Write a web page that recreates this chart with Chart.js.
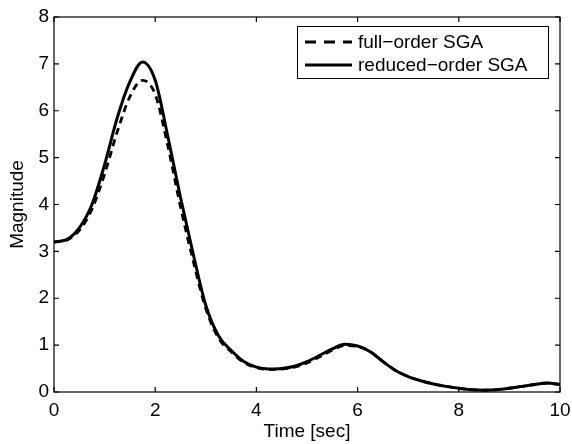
<!DOCTYPE html>
<html><head><meta charset="utf-8">
<script src="https://cdn.jsdelivr.net/npm/chart.js@4.4.1/dist/chart.umd.min.js"></script>
<style>html,body{margin:0;padding:0;background:#fff}#wrap{width:572px;height:444px}</style>
</head><body><div id="wrap"><canvas id="c" width="572" height="444"></canvas></div>
<script>
// ---- data ----
const timeSec = [0,0.25,0.5,0.75,1.0,1.25,1.5,1.75,2.0,2.25,2.5,2.75,3.0,3.25,3.5,3.75,4.0,4.25,4.5,4.75,5.0,5.25,5.5,5.75,6.0,6.25,6.5,6.75,7.0,7.25,7.5,7.75,8.0,8.25,8.5,8.75,9.0,9.25,9.5,9.75,10.0];
const fullOrderSGA    = [3.20,3.24,3.45,3.90,4.65,5.55,6.30,6.65,6.35,5.25,3.95,2.80,1.78,1.15,0.86,0.63,0.52,0.48,0.49,0.53,0.62,0.75,0.89,0.99,0.97,0.86,0.65,0.46,0.33,0.24,0.17,0.12,0.08,0.05,0.04,0.05,0.08,0.12,0.16,0.19,0.16];
const reducedOrderSGA = [3.20,3.25,3.50,4.00,4.85,5.85,6.62,7.04,6.65,5.45,4.15,2.95,1.85,1.20,0.89,0.65,0.53,0.49,0.50,0.55,0.65,0.78,0.92,1.02,0.98,0.86,0.65,0.46,0.33,0.24,0.17,0.12,0.08,0.05,0.04,0.05,0.08,0.12,0.16,0.19,0.16];
const xTicks = [0,2,4,6,8,10];
const yTicks = [0,1,2,3,4,5,6,7,8];
const seriesLabels = ['full\u2212order SGA','reduced\u2212order SGA'];
const xTitle = 'Time [sec]';
const yTitle = 'Magnitude';

const FONT = 'Liberation Sans, Arial, Helvetica, sans-serif';
const FS = 19;

const toPoints = arr => arr.map((v,i)=>({x:timeSec[i], y:v}));

const framePlugin = {
  id:'frame',
  afterDraw(chart){
    const {ctx, chartArea:{left,right,top,bottom}, scales:{x,y}} = chart;
    ctx.save();
    ctx.strokeStyle='#000';
    ctx.lineWidth=1.2;
    ctx.strokeRect(left, top, right-left, bottom-top);
    const tl=5;
    ctx.beginPath();
    xTicks.forEach(v=>{
      const p=x.getPixelForValue(v);
      ctx.moveTo(p,bottom); ctx.lineTo(p,bottom-tl);
      ctx.moveTo(p,top); ctx.lineTo(p,top+tl);
    });
    yTicks.forEach(v=>{
      const p=y.getPixelForValue(v);
      ctx.moveTo(left,p); ctx.lineTo(left+tl,p);
      ctx.moveTo(right,p); ctx.lineTo(right-tl,p);
    });
    ctx.stroke();

    // legend box (inside, top-right)
    const bw=251, bh=52;
    const bx0 = right-12-bw, by0 = top+9;
    ctx.fillStyle='#fff';
    ctx.fillRect(bx0,by0,bw,bh);
    ctx.lineWidth=1;
    ctx.strokeRect(bx0+0.5,by0+0.5,bw,bh);
    ctx.font=FS+'px '+FONT;
    ctx.textBaseline='middle';
    ctx.fillStyle='#000';
    chart.data.datasets.forEach((ds,i)=>{
      const yy = by0 + 16 + i*23;
      ctx.beginPath();
      ctx.lineWidth=3;
      ctx.strokeStyle='#000';
      ctx.setLineDash(i===0?[11,8]:[]);
      ctx.moveTo(bx0+8,yy); ctx.lineTo(bx0+55,yy);
      ctx.stroke();
      ctx.setLineDash([]);
      ctx.fillText(ds.label, bx0+61, yy+1);
    });
    ctx.restore();
  }
};

new Chart(document.getElementById('c'), {
  type:'line',
  data:{
    datasets:[
      {label:seriesLabels[0], data:toPoints(fullOrderSGA), borderColor:'#000', borderWidth:2.8, borderDash:[7,5], pointRadius:0, cubicInterpolationMode:'monotone', fill:false},
      {label:seriesLabels[1], data:toPoints(reducedOrderSGA), borderColor:'#000', borderWidth:3, pointRadius:0, cubicInterpolationMode:'monotone', fill:false}
    ]
  },
  options:{
    responsive:false, animation:false, devicePixelRatio:1,
    layout:{padding:{top:17,right:12,left:0,bottom:0}},
    plugins:{legend:{display:false}, tooltip:{enabled:false}},
    scales:{
      x:{type:'linear', min:0, max:10,
         afterBuildTicks(s){ s.ticks = xTicks.map(v=>({value:v})); },
         afterFit(s){ s.height = 52; s.paddingRight = 0; s.paddingLeft = 0; },
         grid:{display:false, drawTicks:false}, border:{display:false},
         ticks:{color:'#000', font:{family:FONT,size:FS}, padding:7, maxRotation:0},
         title:{display:true, text:xTitle, color:'#000', font:{family:FONT,size:FS}, padding:{top:0,bottom:1}}
      },
      y:{type:'linear', min:0, max:8,
         afterBuildTicks(s){ s.ticks = yTicks.map(v=>({value:v})); },
         afterFit(s){ s.width = 54; s.paddingTop = 0; s.paddingBottom = 0; },
         grid:{display:false, drawTicks:false}, border:{display:false},
         ticks:{color:'#000', font:{family:FONT,size:FS}, padding:5},
         title:{display:true, text:yTitle, color:'#000', font:{family:FONT,size:FS}, padding:{top:6,bottom:0}}
      }
    }
  },
  plugins:[framePlugin]
});
</script></body></html>
